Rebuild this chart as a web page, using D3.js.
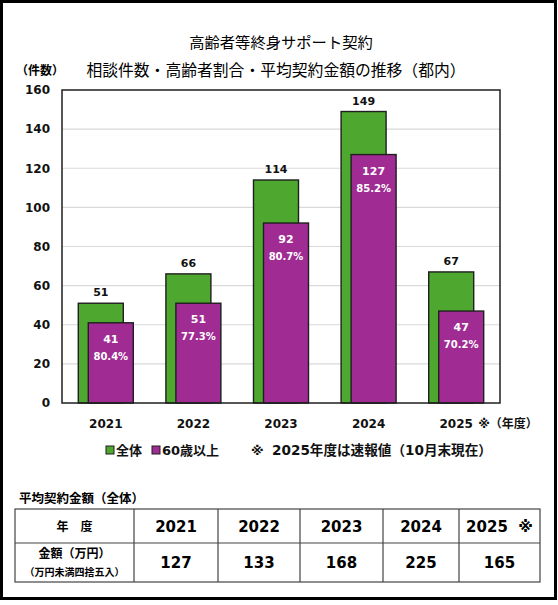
<!DOCTYPE html>
<html>
<head>
<meta charset="utf-8">
<script src="https://cdn.jsdelivr.net/npm/d3@7"></script>
<style>
  body { margin: 0; background: #fff; }
  text { font-family: "DejaVu Sans", "Noto Sans CJK JP", sans-serif; }
</style>
</head>
<body>
<svg id="svg" width="558" height="605"></svg>
<script>
const years = ["2021", "2022", "2023", "2024", "2025"]
const totalCases = [51, 66, 114, 149, 67]
const seniorCases = [41, 51, 92, 127, 47]
const seniorShare = [80.4, 77.3, 80.7, 85.2, 70.2]
const yTicks = [0, 20, 40, 60, 80, 100, 120, 140, 160]
const tableYears = ["2021", "2022", "2023", "2024", "2025\u00a0\u00a0※"]
const avgAmount = [127, 133, 168, 225, 165]

const green = "#4ea72e"
const purple = "#a02b93"
const edge = "#1f1f1f"

const plot = { left: 62, right: 500, top: 90, bottom: 403 }
const barW = 45
const shift = 5

const svg = d3.select("#svg")

// outer frame
svg.append("rect")
  .attr("x", 1.5).attr("y", 1.5)
  .attr("width", 554).attr("height", 597)
  .attr("fill", "none").attr("stroke", "#000").attr("stroke-width", 3)

svg.append("text")
  .attr("x", 281).attr("y", 48)
  .attr("text-anchor", "middle")
  .attr("font-size", "15.3px")
  .text("高齢者等終身サポート契約")

svg.append("text")
  .attr("x", 276).attr("y", 76)
  .attr("text-anchor", "middle")
  .attr("font-size", "15.8px")
  .text("相談件数・高齢者割合・平均契約金額の推移（都内）")

svg.append("text")
  .attr("x", 16).attr("y", 75)
  .attr("font-size", "12px").attr("font-weight", "bold")
  .text("（件数）")

const x = d3.scaleBand()
  .domain(years)
  .range([plot.left, plot.right])

const y = d3.scaleLinear()
  .domain([0, 160])
  .range([plot.bottom, plot.top])

// gridlines
svg.append("g")
  .selectAll("line")
  .data(yTicks.filter(d => d > 0 && d < 160))
  .join("line")
    .attr("x1", plot.left).attr("x2", plot.right)
    .attr("y1", d => y(d)).attr("y2", d => y(d))
    .attr("stroke", "#d9d9d9").attr("stroke-width", 1.2)

const rows = years.map((yr, i) => ({
  yr, total: totalCases[i], senior: seniorCases[i], share: seniorShare[i]
}))

const cx = d => x(d.yr) + x.bandwidth() / 2

svg.append("g")
  .selectAll("rect")
  .data(rows)
  .join("rect")
    .attr("x", d => cx(d) - shift - barW / 2)
    .attr("y", d => y(d.total))
    .attr("width", barW)
    .attr("height", d => y(0) - y(d.total))
    .attr("fill", green).attr("stroke", edge).attr("stroke-width", 1.4)

svg.append("g")
  .selectAll("rect")
  .data(rows)
  .join("rect")
    .attr("x", d => cx(d) + shift - barW / 2)
    .attr("y", d => y(d.senior))
    .attr("width", barW)
    .attr("height", d => y(0) - y(d.senior))
    .attr("fill", purple).attr("stroke", edge).attr("stroke-width", 1.4)

// value labels
svg.append("g")
  .selectAll("text")
  .data(rows)
  .join("text")
    .attr("x", d => cx(d) - shift)
    .attr("y", d => y(d.total) - 7)
    .attr("text-anchor", "middle")
    .attr("font-size", "11px").attr("font-weight", "bold").attr("fill", "#111")
    .text(d => d.total)

const inner = svg.append("g")
  .attr("fill", "#fff").attr("font-weight", "bold").attr("text-anchor", "middle")

inner.selectAll(".cnt")
  .data(rows)
  .join("text")
    .attr("class", "cnt")
    .attr("x", d => cx(d) + shift)
    .attr("y", d => y(d.senior) + 20)
    .attr("font-size", "11px")
    .text(d => d.senior)

inner.selectAll(".pct")
  .data(rows)
  .join("text")
    .attr("class", "pct")
    .attr("x", d => cx(d) + shift)
    .attr("y", d => y(d.senior) + 37)
    .attr("font-size", "10px")
    .text(d => d.share.toFixed(1) + "%")

// axes
svg.append("g")
  .attr("transform", `translate(${plot.left},0)`)
  .call(d3.axisLeft(y).tickValues(yTicks).tickSize(0).tickPadding(12))
  .call(g => g.select(".domain").remove())
  .call(g => g.selectAll("text")
    .attr("font-family", null).attr("font-size", "12px")
    .attr("font-weight", "bold").attr("fill", "#111"))

svg.append("g")
  .attr("transform", `translate(0,${plot.bottom})`)
  .call(d3.axisBottom(x).tickSize(0).tickPadding(16))
  .call(g => g.select(".domain").remove())
  .call(g => g.selectAll("text")
    .attr("font-family", null).attr("font-size", "12px")
    .attr("font-weight", "bold").attr("fill", "#111"))

svg.append("text")
  .attr("x", x("2025") + x.bandwidth() / 2 + 22)
  .attr("y", plot.bottom + 25)
  .attr("font-size", "12px").attr("font-weight", "bold").attr("fill", "#111")
  .text("※（年度）")

// plot frame
svg.append("rect")
  .attr("x", plot.left).attr("y", plot.top)
  .attr("width", plot.right - plot.left).attr("height", plot.bottom - plot.top)
  .attr("fill", "none").attr("stroke", edge).attr("stroke-width", 1.5)

// legend
const legend = svg.append("g").attr("font-size", "13px").attr("font-weight", "bold").attr("fill", "#111")
const keys = [{ label: "全体", color: green, x: 106 }, { label: "60歳以上", color: purple, x: 152 }]
keys.forEach(k => {
  legend.append("rect")
    .attr("x", k.x).attr("y", 446).attr("width", 8).attr("height", 8)
    .attr("fill", k.color).attr("stroke", edge).attr("stroke-width", 1)
  legend.append("text").attr("x", k.x + 10).attr("y", 455).text(k.label)
})
legend.append("text").attr("x", 251).attr("y", 455).text("※")
legend.append("text").attr("x", 272).attr("y", 455).attr("font-size", "13.6px")
  .text("2025年度は速報値（10月末現在）")

// table
svg.append("text")
  .attr("x", 19).attr("y", 503)
  .attr("font-size", "12.5px").attr("font-weight", "bold")
  .text("平均契約金額（全体）")

const colEdges = [15, 134, 218, 300, 383, 459, 540]
const rowEdges = [509, 543, 582]
const table = svg.append("g")

table.append("rect")
  .attr("x", colEdges[0]).attr("y", rowEdges[0])
  .attr("width", colEdges[6] - colEdges[0]).attr("height", rowEdges[2] - rowEdges[0])
  .attr("fill", "none").attr("stroke", "#444").attr("stroke-width", 1.2)
table.append("line")
  .attr("x1", colEdges[0]).attr("x2", colEdges[6])
  .attr("y1", rowEdges[1]).attr("y2", rowEdges[1])
  .attr("stroke", "#444").attr("stroke-width", 1.2)
table.selectAll(".col")
  .data(colEdges.slice(1, 6))
  .join("line")
    .attr("class", "col")
    .attr("x1", d => d).attr("x2", d => d)
    .attr("y1", rowEdges[0]).attr("y2", rowEdges[2])
    .attr("stroke", "#444").attr("stroke-width", 1.2)

const midCol = i => (colEdges[i] + colEdges[i + 1]) / 2

table.append("text")
  .attr("x", midCol(0)).attr("y", 531)
  .attr("text-anchor", "middle").attr("font-size", "12px").attr("font-weight", "bold")
  .text("年　度")

table.selectAll(".yr")
  .data(tableYears)
  .join("text")
    .attr("class", "yr")
    .attr("x", (d, i) => midCol(i + 1)).attr("y", 532)
    .attr("text-anchor", "middle").attr("font-size", "15px").attr("font-weight", "bold")
    .text(d => d)

table.append("text")
  .attr("x", midCol(0)).attr("y", 558)
  .attr("text-anchor", "middle").attr("font-size", "12px").attr("font-weight", "bold")
  .text("金額（万円）")
table.append("text")
  .attr("x", midCol(0)).attr("y", 576)
  .attr("text-anchor", "middle").attr("font-size", "10px").attr("font-weight", "bold")
  .text("（万円未満四捨五入）")

table.selectAll(".amt")
  .data(avgAmount)
  .join("text")
    .attr("class", "amt")
    .attr("x", (d, i) => midCol(i + 1)).attr("y", 568)
    .attr("text-anchor", "middle").attr("font-size", "15px").attr("font-weight", "bold")
    .text(d => d)
</script>
</body>
</html>
